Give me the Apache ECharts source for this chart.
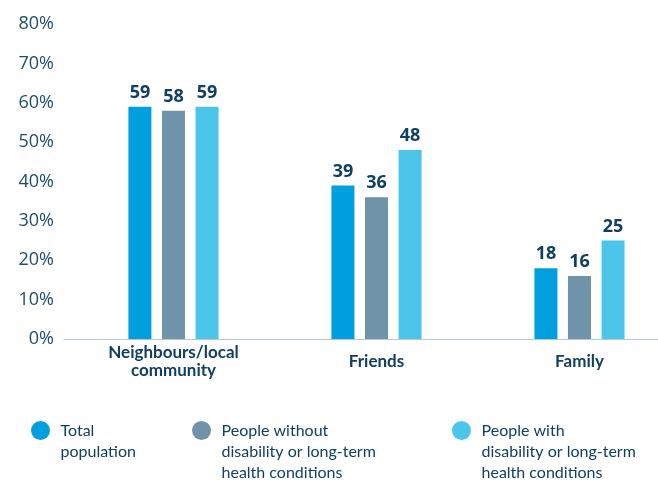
<!DOCTYPE html>
<html>
<head>
<meta charset="utf-8">
<script src="https://cdn.jsdelivr.net/npm/echarts@6/dist/echarts.min.js"></script>
<style>html,body{margin:0;padding:0;background:#fff}#c{width:658px;height:480px}</style>
</head>
<body>
<div id="c"></div>
<script>
const categories = ['Neighbours/local\ncommunity', 'Friends', 'Family'];
const seriesNames = ['Total\npopulation', 'People without\ndisability or long-term\nhealth conditions', 'People with\ndisability or long-term\nhealth conditions'];
const totalPopulation = [59, 39, 18];
const withoutDisability = [58, 36, 16];
const withDisability = [59, 48, 25];
const yTickValues = [0, 10, 20, 30, 40, 50, 60, 70, 80];

const colors = ['#009fdf', '#6f93a8', '#4bc6ea'];
const navy = '#113f60';
const dataSets = [totalPopulation, withoutDisability, withDisability];

const chart = echarts.init(document.getElementById('c'), null, {renderer: 'canvas'});

const legendLefts = [26, 187, 447];
const legends = seriesNames.map((n, i) => {
  const lines = n.split('\n').length;
  return {
    data: [n],
    left: legendLefts[i],
    top: 416 - (lines === 2 ? 22 : 43),
    orient: 'horizontal',
    icon: 'circle',
    itemWidth: 30,
    itemHeight: 19,
    symbolKeepAspect: true,
    selectedMode: false,
    formatter: name => '\n'.repeat(name.split('\n').length - 1) + name,
    textStyle: {
      fontFamily: 'Lato',
      fontSize: 16,
      lineHeight: 21,
      color: navy
    }
  };
});

chart.setOption({
  animation: false,
  color: colors,
  legend: legends,
  grid: [
    {left: 72, width: 609, top: 24, bottom: 141, outerBoundsMode: 'none', containLabel: false},
    {left: 64, right: 0, top: 24, bottom: 141, outerBoundsMode: 'none', containLabel: false}
  ],
  xAxis: [
    {
      type: 'category',
      gridIndex: 0,
      data: categories,
      axisLine: {show: false},
      axisTick: {show: false},
      axisLabel: {
        interval: 0,
        margin: 23,
        verticalAlign: 'middle',
        fontFamily: 'Lato',
        fontWeight: 'bold',
        fontSize: 17,
        lineHeight: 18,
        color: navy
      }
    },
    {
      type: 'category',
      gridIndex: 1,
      data: [''],
      axisLine: {show: true, lineStyle: {color: '#b3c9d6', width: 1}},
      axisTick: {show: false},
      axisLabel: {show: false}
    }
  ],
  yAxis: [
    {
      type: 'value',
      gridIndex: 0,
      min: 0,
      max: 80,
      interval: 10,
      splitLine: {show: false},
      axisLine: {show: false},
      axisTick: {show: false},
      axisLabel: {
        margin: 18,
        formatter: v => yTickValues.includes(v) ? v + '%' : '',
        fontFamily: 'Open Sans',
        fontSize: 18,
        color: '#1d4d6e'
      }
    },
    {
      type: 'value',
      gridIndex: 1,
      min: 0,
      max: 80,
      show: false,
      splitLine: {show: false}
    }
  ],
  series: seriesNames.map((n, i) => ({
    name: n,
    type: 'bar',
    xAxisIndex: 0,
    yAxisIndex: 0,
    data: dataSets[i],
    barWidth: 23,
    barGap: '46%',
    itemStyle: {color: colors[i]},
    label: {
      show: true,
      position: 'top',
      distance: 5,
      fontFamily: 'Open Sans',
      fontWeight: 'bold',
      fontSize: 18,
      color: navy
    }
  }))
});
</script>
</body>
</html>
